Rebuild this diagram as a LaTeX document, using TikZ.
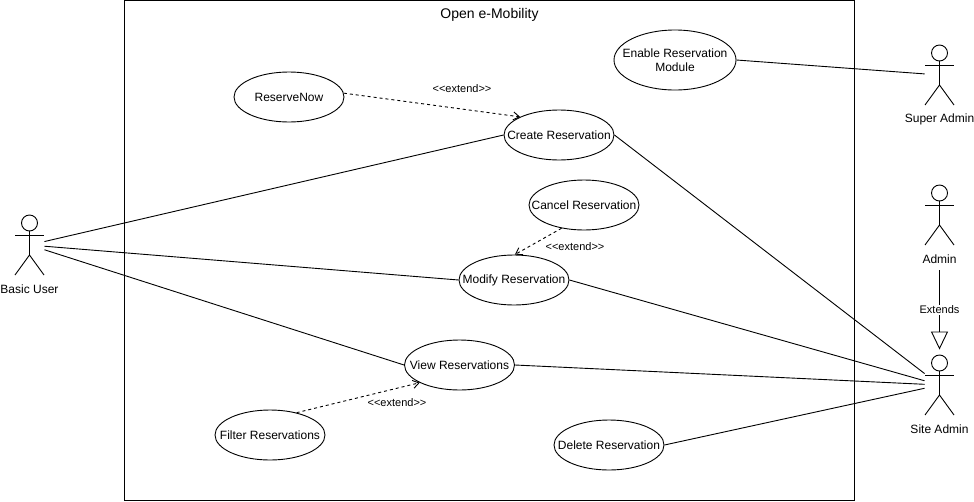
\documentclass[tikz,border=0pt]{standalone}
\usepackage{fontspec}
\setmainfont{Liberation Sans}
\usetikzlibrary{arrows.meta,shapes.geometric}

\begin{document}
\begin{tikzpicture}
      [x=1pt,y=-1pt,line width=0.9pt,
      every node/.style={font=\fontsize{12}{14}\selectfont},
      usecase/.style={ellipse,draw,fill=white,inner xsep=-20pt,inner ysep=0pt,minimum width=110pt,minimum height=50pt},
      actor/.style={rectangle,inner sep=0pt,minimum width=29pt,minimum height=60pt},
      extendtext/.style={font=\fontsize{11}{13}\selectfont},
      extendline/.style={dashed,dash pattern=on 3pt off 3pt,-{Straight Barb[length=6pt,width=8pt]}}]
      \useasboundingbox (0,0) rectangle (974,501);
      \fill [white] (0,0) rectangle (974,501);

      \draw (124.5,0.5) rectangle (854.5,500.5);
      \node (title) at (489.5,15) {\fontsize{14}{16}\selectfont Open e-Mobility};

      \node [usecase] (reservenow) at (289,97) {ReserveNow};
      \node [usecase] (create) at (559,135) {Create Reservation};
      \node [usecase,minimum width=122pt,minimum height=60pt,align=center] (enable) at (675,60) {Enable Reservation\\Module};
      \node [usecase] (cancel) at (584,205) {Cancel Reservation};
      \node [usecase] (modify) at (514,280) {Modify Reservation};
      \node [usecase] (view) at (459.5,365) {View Reservations};
      \node [usecase] (filter) at (270,435) {Filter Reservations};
      \node [usecase] (delete) at (609,445) {Delete Reservation};

      \foreach \actorname/\px/\py/\actortext in {basic/29.5/245/Basic User, superadmin/939.5/75/Super Admin,
        admin/939.5/215/Admin, siteadmin/939.5/385/Site Admin}
      {
      \node [actor] (\actorname) at (\px,\py) {};
      \node (\actorname text) at (\px,\py+44) {\actortext};
      \draw (\px,\py-22) circle (8pt);
      \draw (\px,\py-14) -- (\px,\py+10);
      \draw (\px-14.5,\py-10) -- (\px+14.5,\py-10);
      \draw (\px-14.5,\py+30) -- (\px,\py+10) -- (\px+14.5,\py+30);
      }

      \foreach \from/\to in {basic/create.west, basic/modify.west, basic/view.west, create.east/siteadmin, modify.east/siteadmin,
        view.east/siteadmin, delete.east/siteadmin, enable.east/superadmin}
      \draw (\from) -- (\to);

      \draw [extendline] (reservenow.4) -- (create.155);
      \draw [extendline] (cancel.226) -- (modify.88);
      \draw [extendline] (filter.40) -- (view.204);
      \node [extendtext] (extend1) at (462,89) {<{}<extend>{}>};
      \node [extendtext] (extend2) at (575,247) {<{}<extend>{}>};
      \node [extendtext] (extend3) at (397,403) {<{}<extend>{}>};

      \draw [-{Triangle[open,length=18pt,width=17pt]},shorten <=25pt,shorten >=5pt] (admin) -- (siteadmin)
        node [pos=0.59,fill=white,inner sep=1pt,extendtext] (extends) {Extends};
    \end{tikzpicture}
\end{document}
